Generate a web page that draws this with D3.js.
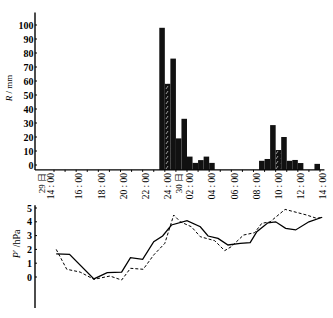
<!DOCTYPE html>
<html><head><meta charset="utf-8">
<script src="https://cdn.jsdelivr.net/npm/d3@7"></script>
<style>
body{margin:0;background:#fff}
svg{display:block}
text{font-family:"Liberation Serif","DejaVu Serif",serif;fill:#000}
</style>
</head><body>
<svg id="c" width="333" height="318"></svg>
<script>
// ---------- data ----------
const rainTicks = [0,10,20,30,40,50,60,70,80,90,100];
const pressureTicks = [0,1,2,3,4,5];
const timeTickHours = [0,2,4,6,8,10,12,14,16,18,20,22,24];
const timeTickLabels = ["14 : 00","16 : 00","18 : 00","20 : 00","22 : 00","24 : 00","02 : 00","04 : 00","06 : 00","08 : 00","10 : 00","12 : 00","14 : 00"];
const dayLabels = ["29 日","30 日"];
const dayLabelHours = [-1.4, 11.0];

// half-hour rainfall bars (start hour counted from 29th 14:00)
const barStartHours = [9.5,10,10.5,11,11.5,12,12.5,13,13.5,14, 18.5,19,19.5,20,20.5,21,21.5,22, 23.5];
const barValues     = [98,58,76,19,33,6,1.5,3.5,6,1.5, 3,4.3,28.5,10.7,20,3,3.6,1.4, 0.8];
const barHatched    = [false,true,false,false,false,false,false,false,false,false, false,false,false,true,false,false,false,false, false];

// pressure perturbation P' (hPa)
const solidHours  = [0.2,1.4,3.6,4.8,6.1,6.9,8.0,9.0,9.8,10.6,12.0,13.2,13.9,14.8,15.7,16.8,17.7,18.3,19.3,20.0,20.9,21.8,23.0,24.2];
const solidValues = [1.67,1.64,-0.14,0.31,0.36,1.40,1.28,2.56,2.97,3.77,4.08,3.64,2.97,2.80,2.32,2.44,2.49,3.28,3.93,4.0,3.53,3.41,4.0,4.33];
const dashedHours  = [0.2,1.15,2.35,3.6,5.05,6.1,6.9,8.05,9.0,10.0,10.8,11.4,12.4,13.2,14.5,15.4,16.0,17.1,18.1,18.75,19.5,20.85,22.8,23.7,24.2];
const dashedValues = [2.0,0.56,0.36,-0.17,0.07,-0.22,0.63,0.56,1.6,2.44,4.49,4.0,3.64,2.92,2.63,1.91,2.2,3.04,3.21,3.89,4.0,4.9,4.49,4.25,4.33];

// ---------- layout ----------
const svg = d3.select("#c");
const x = d3.scaleLinear().domain([0,24]).range([54,320]);
const yR = d3.scaleLinear().domain([0,100]).range([165,25]);
const rainFloor = -3.5, rainTop = 109;
const yP = d3.scaleLinear().domain([0,5]).range([277,208]);
const pBottom = -2.25, pTop = 5.2;
const axisX = 35;
const labelDx = 3;

// hatch pattern
const defs = svg.append("defs");
const pat = defs.append("pattern").attr("id","hatch").attr("patternUnits","userSpaceOnUse")
  .attr("width",5).attr("height",5);
pat.append("rect").attr("width",5).attr("height",5).attr("fill","#111");
pat.append("path").attr("d","M1,4 L3,1").attr("stroke","#bbb").attr("stroke-width",0.8);

// ---------- rainfall panel ----------
const bw = x(0.5) - x(0);
svg.append("g").selectAll("rect").data(barValues).join("rect")
  .attr("x",(d,i)=>x(barStartHours[i]))
  .attr("y",d=>yR(d))
  .attr("width",bw)
  .attr("height",d=>yR(rainFloor)-yR(d))
  .attr("fill",(d,i)=>barHatched[i]?"url(#hatch)":"#111");

// y axis
const gY = svg.append("g").attr("transform",`translate(${axisX},0)`);
gY.append("line").attr("y1",yR(rainTop)).attr("y2",yR(rainFloor)).attr("stroke","#000").attr("stroke-width",1.4);
gY.selectAll("text").data(rainTicks).join("text")
  .attr("x",-1.5).attr("y",d=>yR(d)).attr("dy","0.35em")
  .attr("text-anchor","end").attr("font-size",10).attr("font-weight","bold").text(d=>d);
gY.selectAll("line.t").data(rainTicks).join("line").attr("class","t")
  .attr("x1",0).attr("x2",2).attr("y1",d=>yR(d)).attr("y2",d=>yR(d)).attr("stroke","#000");

svg.append("text").attr("transform",`translate(12,${yR(55)}) rotate(-90)`)
  .attr("text-anchor","middle").attr("font-size",9).attr("fill","#333")
  .html('<tspan font-style="italic">R</tspan> / mm');

// x axis
svg.append("line").attr("x1",axisX).attr("x2",x(24.4)).attr("y1",yR(rainFloor)).attr("y2",yR(rainFloor))
  .attr("stroke","#000").attr("stroke-width",1.4);
svg.append("g").selectAll("line").data(d3.range(0,25)).join("line")
  .attr("x1",d=>x(d)).attr("x2",d=>x(d))
  .attr("y1",yR(rainFloor)).attr("y2",yR(rainFloor)+2).attr("stroke","#000");

const labelTop = yR(rainFloor)+3;
svg.append("g").selectAll("text").data(timeTickLabels).join("text")
  .attr("transform",(d,i)=>`translate(${x(timeTickHours[i])+(i===0?-3:labelDx)},${labelTop}) rotate(-90)`)
  .attr("dy","0.35em").attr("text-anchor","end").attr("font-size",9.5).text(d=>d);
svg.append("g").selectAll("text").data(dayLabels).join("text")
  .attr("transform",(d,i)=>`translate(${x(dayLabelHours[i])+labelDx},${labelTop}) rotate(-90)`)
  .attr("dy","0.35em").attr("text-anchor","end").attr("font-size",9)
  .attr("font-family","'Noto Sans CJK SC',sans-serif").text(d=>d);

// ---------- pressure panel ----------
const gP = svg.append("g").attr("transform",`translate(${axisX},0)`);
gP.append("line").attr("y1",yP(pTop)).attr("y2",yP(pBottom)).attr("stroke","#000").attr("stroke-width",1.4);
gP.selectAll("text").data(pressureTicks).join("text")
  .attr("x",-3).attr("y",d=>yP(d)).attr("dy","0.35em")
  .attr("text-anchor","end").attr("font-size",10).attr("font-weight","bold").text(d=>d);
gP.selectAll("line.t").data(pressureTicks).join("line").attr("class","t")
  .attr("x1",0).attr("x2",2).attr("y1",d=>yP(d)).attr("y2",d=>yP(d)).attr("stroke","#000");

svg.append("text").attr("transform",`translate(20,${yP(2.4)}) rotate(-90)`)
  .attr("text-anchor","middle").attr("font-size",10)
  .html('<tspan font-style="italic">P</tspan>′ /hPa');

const line = d3.line().x(d=>x(d[0])).y(d=>yP(d[1]));
svg.append("path").datum(solidHours.map((h,i)=>[h,solidValues[i]]))
  .attr("d",line).attr("fill","none").attr("stroke","#000").attr("stroke-width",1.3);
svg.append("path").datum(dashedHours.map((h,i)=>[h,dashedValues[i]]))
  .attr("d",line).attr("fill","none").attr("stroke","#000").attr("stroke-width",1)
  .attr("stroke-dasharray","3,2");
</script>
</body></html>
